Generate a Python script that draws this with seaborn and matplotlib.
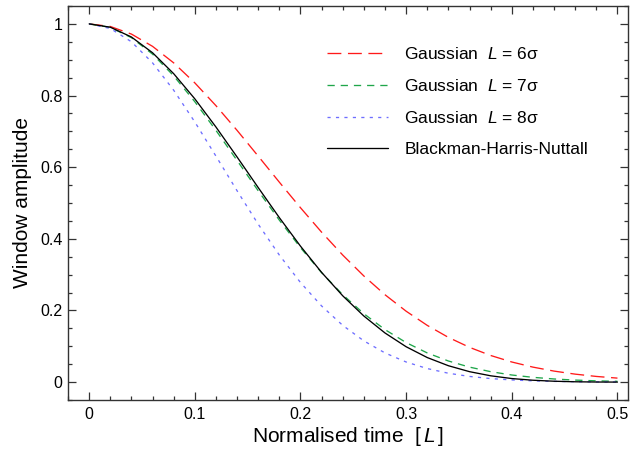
import matplotlib
matplotlib.use("Agg")
import matplotlib.pyplot as plt
import seaborn as sns
import pandas as pd
from matplotlib.ticker import MultipleLocator, FormatStrFormatter

# ---- data ----
time = [0.00, 0.02, 0.04, 0.06, 0.08, 0.10, 0.12, 0.14, 0.16, 0.18, 0.20, 0.22, 0.24,
        0.26, 0.28, 0.30, 0.32, 0.34, 0.36, 0.38, 0.40, 0.42, 0.44, 0.46, 0.48, 0.50]
gauss6 = [1.0, 0.9928, 0.9716, 0.9373, 0.8912, 0.8353, 0.7717, 0.7027, 0.6308, 0.5581,
          0.4868, 0.4185, 0.3546, 0.2962, 0.2439, 0.1979, 0.1583, 0.1248, 0.0970, 0.0743,
          0.0561, 0.0418, 0.0307, 0.0222, 0.0158, 0.0111]
gauss7 = [1.0, 0.9902, 0.9616, 0.9156, 0.8549, 0.7827, 0.7027, 0.6187, 0.5341, 0.4521,
          0.3753, 0.3055, 0.2439, 0.1909, 0.1465, 0.1103, 0.0814, 0.0589, 0.0418, 0.0291,
          0.0198, 0.0133, 0.0087, 0.0056, 0.0035, 0.0022]
gauss8 = [1.0, 0.9873, 0.9501, 0.8912, 0.8148, 0.7262, 0.6308, 0.5341, 0.4408, 0.3546,
          0.2780, 0.2125, 0.1583, 0.1150, 0.0814, 0.0561, 0.0378, 0.0247, 0.0158, 0.0098,
          0.0060, 0.0035, 0.0020, 0.0012, 0.0006, 0.0003]
bhn = [1.0, 0.9907, 0.9634, 0.9194, 0.8610, 0.7908, 0.7121, 0.6284, 0.5430, 0.4591,
       0.3795, 0.3062, 0.2409, 0.1844, 0.1371, 0.0987, 0.0685, 0.0457, 0.0291, 0.0176,
       0.0099, 0.0052, 0.0024, 0.0009, 0.0002, 0.0]
series_labels = [r"Gaussian  $L$ = 6σ", r"Gaussian  $L$ = 7σ",
                 r"Gaussian  $L$ = 8σ", "Blackman-Harris-Nuttall"]
x_label = r"Normalised time  [$\,L\,$]"
y_label = "Window amplitude"

# ---- styling ----
sns.set_theme(style="ticks")
plt.rcParams["font.family"] = ["Liberation Sans", "DejaVu Sans"]
plt.rcParams["mathtext.fontset"] = "custom"
plt.rcParams["mathtext.rm"] = "Liberation Sans"
plt.rcParams["mathtext.it"] = "Liberation Sans:italic"
plt.rcParams["text.color"] = "black"
plt.rcParams["axes.labelcolor"] = "black"
plt.rcParams["xtick.labelcolor"] = "black"
plt.rcParams["ytick.labelcolor"] = "black"

fig = plt.figure(figsize=(6.43, 4.5), dpi=100)
ax = fig.add_axes([0.1058, 0.1111, 0.8709, 0.8756])

colors = ["#FF1A1A", "#1FA64A", "#6E6EFF", "#000000"]
styles = [(0, (10.5, 5.0)), (0, (5.5, 4.5)), (0, (2.4, 4.0)), "-"]
all_y = [gauss6, gauss7, gauss8, bhn]

for yvals, lab, col, ls in zip(all_y, series_labels, colors, styles):
    df = pd.DataFrame({"t": time, "w": yvals})
    sns.lineplot(data=df, x="t", y="w", ax=ax, color=col, linestyle=ls,
                 linewidth=0.95, label=lab, errorbar=None)

ax.set_xlim(-0.02, 0.51)
ax.set_ylim(-0.05, 1.05)
ax.xaxis.set_major_locator(MultipleLocator(0.1))
ax.xaxis.set_minor_locator(MultipleLocator(0.02))
ax.yaxis.set_major_locator(MultipleLocator(0.2))
ax.yaxis.set_minor_locator(MultipleLocator(0.05))
ax.xaxis.set_major_formatter(FormatStrFormatter("%g"))
ax.yaxis.set_major_formatter(FormatStrFormatter("%g"))

frame_col = "#333333"
for sp in ax.spines.values():
    sp.set_visible(True)
    sp.set_color(frame_col)
    sp.set_linewidth(1.0)
ax.tick_params(which="both", direction="in", top=True, right=True,
               color=frame_col, width=0.9, labelcolor="black")
ax.tick_params(which="major", length=5.5, labelsize=11.5, pad=4)
ax.tick_params(which="minor", length=3)
ax.tick_params(axis="x", which="major", pad=5)

ax.set_xlabel(x_label, fontsize=15, labelpad=2, color="black")
ax.set_ylabel(y_label, fontsize=15, labelpad=6, color="black")

leg = ax.legend(loc="upper left", bbox_to_anchor=(0.4625, 0.899), frameon=False,
                fontsize=12.5, handlelength=3.5, handletextpad=0.95, labelspacing=0.92,
                borderpad=0, borderaxespad=0)
for txt in leg.get_texts():
    txt.set_color("black")

fig.savefig("out.png", dpi=100)
